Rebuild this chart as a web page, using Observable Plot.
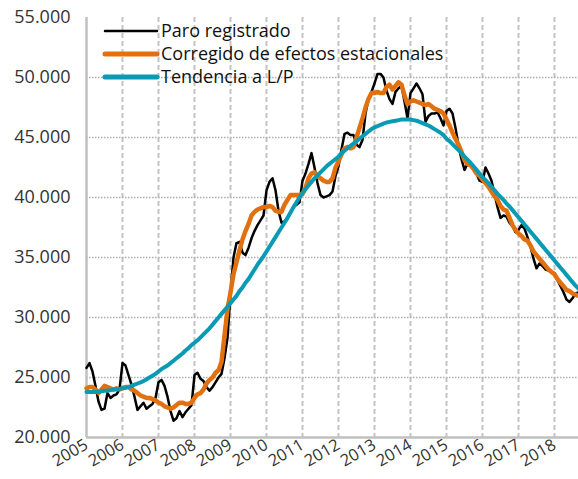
<!DOCTYPE html>
<html>
<head>
<meta charset="utf-8">
<script src="https://cdn.jsdelivr.net/npm/d3@7"></script>
<script src="https://cdn.jsdelivr.net/npm/@observablehq/plot@0.6"></script>
<style>
  html, body { margin: 0; padding: 0; background: #fff; }
  #wrap { width: 578px; height: 479px; font-family: "Open Sans", sans-serif; }
</style>
</head>
<body>
<div id="wrap"></div>
<script>
// Monthly series, Jan 2005 – Sep 2018 (thousands of persons)
const startYear = 2005;
const paro = [
  25.8, 26.2, 25.5, 24.3, 23.0, 22.3, 22.4, 23.7, 23.3, 23.5, 23.6, 24.0, // 2005
  26.2, 26.0, 25.2, 24.4, 23.4, 22.3, 22.6, 22.9, 22.4, 22.6, 22.8, 23.3, // 2006
  24.6, 24.8, 24.3, 23.4, 22.2, 21.4, 21.6, 22.2, 21.7, 22.1, 22.4, 22.7, // 2007
  25.2, 25.4, 24.9, 24.7, 24.2, 23.9, 24.2, 24.6, 25.0, 25.3, 26.6, 28.3, // 2008
  32.0, 35.0, 36.2, 36.3, 35.4, 35.2, 35.8, 36.6, 37.2, 37.7, 38.1, 38.5, // 2009
  40.6, 41.3, 41.6, 40.6, 38.9, 37.9, 38.0, 38.3, 38.7, 39.2, 39.4, 39.6, // 2010
  41.4, 42.0, 42.8, 43.7, 42.5, 41.2, 40.2, 40.0, 40.1, 40.2, 40.5, 41.8, // 2011
  42.6, 44.0, 45.3, 45.4, 45.2, 45.2, 44.4, 44.2, 44.8, 47.0, 48.2, 48.8, // 2012
  49.5, 50.3, 50.3, 50.0, 48.9, 48.2, 47.8, 48.8, 49.1, 49.3, 48.0, 46.6, // 2013
  48.7, 49.1, 49.5, 49.1, 48.6, 46.3, 46.8, 47.0, 47.0, 47.1, 46.6, 46.0, // 2014
  47.2, 47.4, 47.0, 45.8, 44.3, 43.2, 42.3, 42.8, 42.8, 42.4, 42.0, 41.4, // 2015
  41.3, 42.5, 42.0, 41.4, 40.3, 39.2, 38.3, 38.5, 38.4, 37.9, 37.6, 37.1, // 2016
  37.3, 37.7, 37.4, 36.7, 35.9, 34.9, 34.1, 34.5, 34.3, 34.0, 33.9, 33.8, // 2017
  33.7, 33.1, 32.6, 32.1, 31.5, 31.3, 31.6, 32.0, 32.1                    // 2018
];
const corregido = [
  24.1, 24.2, 24.2, 24.0, 23.7, 24.0, 24.3, 24.2, 24.1, 24.0, 24.1, 24.0,
  24.1, 24.2, 24.2, 24.0, 23.9, 23.7, 23.5, 23.4, 23.3, 23.3, 23.2, 23.1,
  22.9, 22.8, 22.6, 22.5, 22.4, 22.5, 22.7, 22.9, 22.9, 22.8, 22.8, 22.9,
  23.3, 23.6, 23.7, 24.0, 24.5, 24.8, 25.0, 25.4, 25.6, 26.3, 28.5, 30.7,
  32.1, 33.6, 34.6, 35.6, 36.5, 37.2, 37.8, 38.5, 38.8, 39.0, 39.1, 39.2,
  39.2, 39.3, 39.2, 38.9, 38.8, 38.8, 39.4, 39.8, 40.2, 40.2, 40.2, 40.2,
  40.3, 40.8, 41.6, 42.0, 42.1, 41.8, 41.6, 41.4, 41.3, 41.3, 41.6, 42.5,
  43.0, 43.6, 44.1, 44.2, 44.1, 44.2, 45.0, 45.8, 46.6, 47.5, 48.2, 48.7,
  48.7, 48.8, 48.7, 48.7, 49.2, 49.4, 49.0, 49.3, 49.6, 49.4, 48.5, 47.8,
  48.0, 48.1, 48.0, 47.9, 47.8, 47.7, 47.8, 47.6, 47.4, 47.3, 47.2, 47.0,
  46.5, 46.0, 45.4, 44.9, 44.4, 43.8, 43.1, 42.8, 42.7, 42.4, 42.0, 41.8,
  41.5, 41.2, 40.9, 40.5, 40.1, 39.8, 39.3, 39.0, 38.9, 38.3, 37.7, 37.3,
  37.0, 36.8, 36.5, 36.4, 36.0, 35.5, 35.2, 34.9, 34.6, 34.3, 34.0, 33.8,
  33.6, 33.2, 32.9, 32.6, 32.3, 32.2, 32.0, 31.9, 31.8
];
const tendencia = [
  23.8, 23.8, 23.8, 23.8, 23.8, 23.85, 23.9, 23.9, 23.95, 24.0, 24.0, 24.05,
  24.1, 24.15, 24.2, 24.3, 24.4, 24.5, 24.6, 24.7, 24.85, 25.0, 25.15, 25.3,
  25.5, 25.7, 25.85, 26.0, 26.2, 26.4, 26.6, 26.8, 27.0, 27.25, 27.45, 27.7,
  27.9, 28.1, 28.35, 28.6, 28.85, 29.1, 29.4, 29.7, 30.0, 30.3, 30.6, 30.9,
  31.2, 31.5, 31.8, 32.2, 32.5, 32.9, 33.2, 33.6, 34.0, 34.4, 34.75, 35.1,
  35.5, 35.9, 36.3, 36.7, 37.1, 37.5, 37.9, 38.3, 38.75, 39.2, 39.6, 40.0,
  40.4, 40.7, 41.0, 41.3, 41.6, 41.85, 42.1, 42.35, 42.6, 42.8, 43.0, 43.2,
  43.4, 43.65, 43.9, 44.1, 44.3, 44.5, 44.7, 44.9, 45.1, 45.3, 45.5, 45.7,
  45.85, 45.95, 46.05, 46.15, 46.25, 46.3, 46.35, 46.4, 46.45, 46.5, 46.5, 46.5,
  46.5, 46.45, 46.4, 46.3, 46.2, 46.1, 46.0, 45.85, 45.7, 45.55, 45.4, 45.2,
  44.9, 44.7, 44.45, 44.2, 43.95, 43.7, 43.4, 43.15, 42.9, 42.6, 42.3, 42.0,
  41.7, 41.45, 41.2, 40.9, 40.6, 40.3, 40.05, 39.8, 39.5, 39.25, 38.95, 38.65,
  38.35, 38.05, 37.75, 37.45, 37.15, 36.85, 36.55, 36.25, 35.95, 35.65, 35.35, 35.05,
  34.75, 34.45, 34.15, 33.85, 33.55, 33.25, 32.95, 32.65, 32.4
];
const seriesNames = ["Paro registrado", "Corregido de efectos estacionales", "Tendencia a L/P"];
const seriesColors = ["#000000", "#e3700f", "#0a9ab4"];
const seriesWidths = [2.5, 4.5, 4];
const yearTicks = [2005, 2006, 2007, 2008, 2009, 2010, 2011, 2012, 2013, 2014, 2015, 2016, 2017, 2018];
const yTicks = [20000, 25000, 30000, 35000, 40000, 45000, 50000, 55000];

const toRows = (arr) => arr.map((v, i) => ({ t: startYear + i / 12, v: v * 1000 }));
const rows = [paro, corregido, tendencia].map(toRows);
const lastT = startYear + (paro.length - 1) / 12;

const esFmt = d3.formatLocale({ decimal: ",", thousands: ".", grouping: [3], currency: ["", "€"] }).format(",d");

const chart = Plot.plot({
  width: 578,
  height: 479,
  marginLeft: 86,
  marginRight: 0,
  marginTop: 17,
  marginBottom: 42,
  style: { fontFamily: "'Open Sans', sans-serif", fontSize: "18px", color: "#333", background: "#fff", overflow: "visible" },
  x: { domain: [startYear, lastT], label: null },
  y: { domain: [20000, 55000], label: null },
  marks: [
    Plot.gridX({ ticks: yearTicks.slice(1), stroke: "#c4c4c4", strokeOpacity: 1, strokeWidth: 2, strokeDasharray: "5,3" }),
    Plot.gridY({ ticks: yTicks.filter(d => d > 20000 && d < 55000), stroke: "#b0b0b0", strokeOpacity: 1, strokeWidth: 1.3, strokeDasharray: "1.5,1.5" }),
    Plot.axisY({ ticks: yTicks, tickFormat: esFmt, tickSize: 0, tickPadding: 16, fontSize: 18, fill: "#333", label: null }),
    Plot.axisX({ ticks: yearTicks, tickFormat: d => String(d), tickRotate: -30, tickSize: 0, tickPadding: 6, fontSize: 16.5, fill: "#333", label: null }),
    Plot.ruleX([startYear], { stroke: "#c0c0c0", strokeWidth: 2.5 }),
    Plot.ruleY([20000], { stroke: "#c0c0c0", strokeWidth: 2.5 }),
    Plot.line(rows[0], { x: "t", y: "v", stroke: seriesColors[0], strokeWidth: seriesWidths[0], strokeLinejoin: "round" }),
    Plot.line(rows[1], { x: "t", y: "v", stroke: seriesColors[1], strokeWidth: seriesWidths[1], strokeLinejoin: "round" }),
    Plot.line(rows[2], { x: "t", y: "v", stroke: seriesColors[2], strokeWidth: seriesWidths[2], strokeLinejoin: "round" })
  ]
});

document.getElementById("wrap").appendChild(chart);

// Legend drawn into the plot's own SVG (inside the plot area, top-left)
const leg = d3.select(chart).append("g").attr("class", "legend").attr("text-anchor", "start");
const rowsG = leg.selectAll("g").data(seriesNames).join("g")
  .attr("transform", (d, i) => `translate(105, ${31 + i * 23})`);
rowsG.append("line").attr("x1", 0).attr("x2", 52).attr("y1", 0).attr("y2", 0)
  .attr("stroke", (d, i) => seriesColors[i]).attr("stroke-width", (d, i) => i === 0 ? 2.5 : 5)
  .attr("stroke-linecap", "round");
rowsG.append("text").attr("x", 56).attr("y", 0).attr("dy", "0.35em")
  .attr("text-anchor", "start")
  .attr("font-family", "'Open Sans', sans-serif").attr("font-size", 18).attr("fill", "#111")
  .text(d => d);
</script>
</body>
</html>
